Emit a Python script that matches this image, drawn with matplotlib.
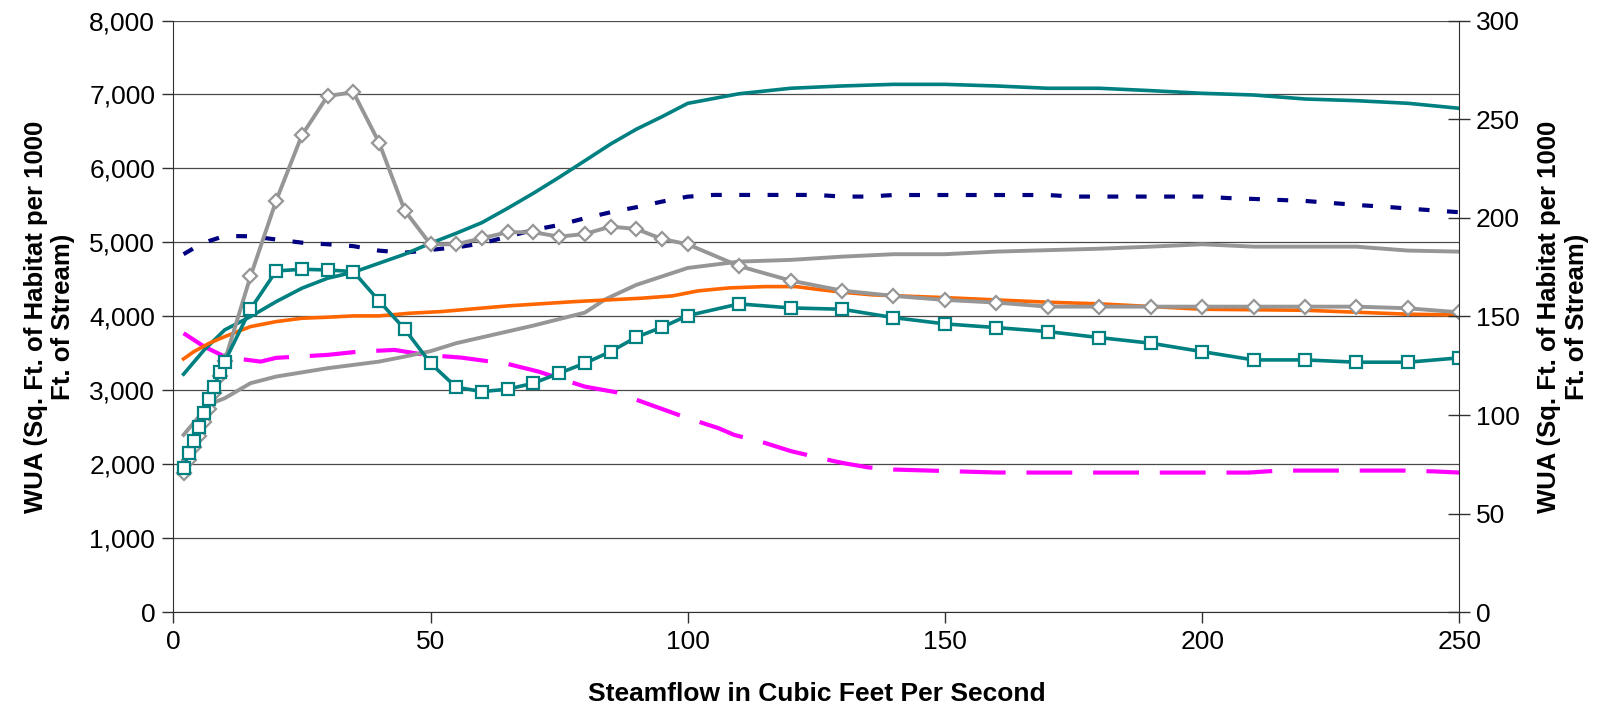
import numpy as np
import matplotlib
matplotlib.use('Agg')
import matplotlib.pyplot as plt
from matplotlib.ticker import FuncFormatter

plt.rcParams['font.family'] = ['Liberation Sans', 'DejaVu Sans']

# flows (cfs) where the marker series were sampled
flow_pts = [2, 3, 4, 5, 6, 7, 8, 9, 10, 15, 20, 25, 30, 35, 40, 45, 50, 55, 60, 65,
            70, 75, 80, 85, 90, 95, 100, 110, 120, 130, 140, 150, 160, 170, 180,
            190, 200, 210, 220, 230, 240, 250]

# gray line with diamonds
wua_diamond = [1890, 2060, 2230, 2380, 2570, 2750, 2970, 3190, 3400, 4540, 5565, 6450,
               6980, 7030, 6350, 5430, 4975, 4975, 5057, 5138, 5138, 5078, 5115, 5214,
               5182, 5047, 4975, 4680, 4484, 4349, 4277, 4223, 4187, 4132, 4132, 4132,
               4132, 4132, 4132, 4132, 4110, 4055]

# teal line with squares
wua_square = [1950, 2150, 2320, 2510, 2690, 2885, 3050, 3245, 3390, 4097, 4615, 4637,
              4628, 4606, 4209, 3827, 3367, 3043, 2984, 3016, 3097, 3232, 3367, 3524,
              3719, 3854, 4011, 4169, 4115, 4097, 3984, 3899, 3849, 3795, 3714, 3638,
              3524, 3412, 3412, 3381, 3381, 3440]

# teal solid
teal_x = [2, 6, 10, 15, 20, 25, 30, 35, 40, 45, 50, 55, 60, 65, 70, 75, 80, 85, 90, 95,
          100, 110, 120, 130, 140, 150, 160, 170, 180, 190, 200, 210, 220, 230, 240, 250]
teal_y = [3219, 3547, 3818, 3997, 4200, 4381, 4516, 4597, 4719, 4841, 4989, 5124, 5268,
          5462, 5665, 5880, 6104, 6330, 6530, 6700, 6880, 7010, 7084, 7115, 7137, 7137,
          7115, 7084, 7084, 7052, 7016, 6993, 6939, 6916, 6881, 6813]

# orange solid
orange_x = [2, 4, 7, 10, 15, 20, 25, 30, 35, 40, 46, 52, 65, 78, 91, 97, 102, 108, 115,
            121, 125, 130, 136, 150, 170, 180, 200, 220, 240, 250]
orange_y = [3426, 3524, 3638, 3727, 3862, 3930, 3975, 3989, 4007, 4007, 4043, 4065, 4142,
            4200, 4246, 4277, 4345, 4385, 4403, 4403, 4368, 4327, 4291, 4254, 4192, 4170,
            4097, 4083, 4030, 4020]

# gray solid
gray_x = [2, 5, 8, 10, 15, 20, 30, 40, 45, 50, 55, 70, 80, 84, 90, 100, 110, 120, 130,
          140, 150, 160, 180, 190, 200, 210, 230, 240, 250]
gray_y = [2399, 2646, 2840, 2894, 3097, 3187, 3300, 3389, 3457, 3530, 3638, 3876, 4051,
          4232, 4426, 4655, 4741, 4764, 4808, 4841, 4841, 4876, 4915, 4943, 4975, 4943,
          4943, 4890, 4876]

# navy dashed
navy_x = [2, 4.5, 7, 10, 15, 25, 30, 35, 40, 45, 50, 56, 60, 65, 70, 75, 80, 85, 90, 95,
          100, 105, 125, 130, 135, 140, 170, 175, 200, 205, 210, 220, 225, 230, 236, 241, 250]
navy_y = [4841, 4943, 5020, 5088, 5083, 4997, 4975, 4950, 4889, 4862, 4899, 4943, 4989,
          5078, 5169, 5236, 5327, 5408, 5476, 5552, 5619, 5642, 5642, 5620, 5620, 5641,
          5641, 5620, 5620, 5600, 5588, 5561, 5534, 5507, 5480, 5453, 5408]

# magenta long-dashed
pink_x = [2, 6, 10, 13, 17, 20, 30, 36, 43, 49, 56, 65, 71, 80, 86, 91, 100, 106, 109,
          115, 120, 125, 130, 135, 140, 150, 160, 170, 180, 190, 200, 209, 215, 220, 230,
          240, 245, 250]
pink_y = [3773, 3592, 3457, 3425, 3389, 3440, 3480, 3524, 3547, 3480, 3443, 3358, 3254,
          3051, 2976, 2849, 2624, 2489, 2399, 2290, 2180, 2097, 2020, 1960, 1930, 1910,
          1890, 1889, 1889, 1889, 1889, 1889, 1916, 1916, 1916, 1916, 1905, 1889]

left_ticks = np.arange(0, 8001, 1000)
right_ticks = np.arange(0, 301, 50)
x_ticks = [0, 50, 100, 150, 200, 250]

fig = plt.figure(figsize=(16.06, 7.12), dpi=100)
ax = fig.add_axes([0.1079, 0.140, 0.8008, 0.8312])

ax.plot(pink_x, pink_y, color='#FF00FF', lw=3.0, dashes=(11, 5), zorder=3)
ax.plot(navy_x, navy_y, color='#000080', lw=3.0, dashes=(2.6, 4.2), zorder=3)
ax.plot(gray_x, gray_y, color='#969696', lw=2.8, zorder=3)
ax.plot(teal_x, teal_y, color='#008080', lw=2.6, zorder=3)
ax.plot(orange_x, orange_y, color='#FF6600', lw=2.6, zorder=3)
ax.plot(flow_pts, wua_diamond, color='#969696', lw=2.8, marker='D', ms=7,
        mfc='white', mec='#969696', mew=1.6, zorder=4)
ax.plot(flow_pts, wua_square, color='#008080', lw=2.6, marker='s', ms=8,
        mfc='white', mec='#008080', mew=1.6, zorder=5)

ax.set_xlim(0, 250)
ax.set_ylim(0, 8000)
ax.set_xticks(x_ticks)
ax.set_yticks(left_ticks)
ax.yaxis.set_major_formatter(FuncFormatter(lambda v, p: '{:,.0f}'.format(v)))
ax.grid(axis='y', color='#4a4a4a', lw=0.9, zorder=1)
ax.set_axisbelow(True)
for s in ['top', 'right']:
    ax.spines[s].set_visible(False)
ax.spines['left'].set_color('#303030')
ax.spines['bottom'].set_color('#303030')
ax.tick_params(axis='both', labelsize=19, length=8, width=1, color='#303030', pad=5)
ax.set_xlabel('Steamflow in Cubic Feet Per Second', fontsize=19, fontweight='bold',
              labelpad=20)
ax.set_ylabel('WUA (Sq. Ft. of Habitat per 1000\nFt. of Stream)', fontsize=18.5,
              fontweight='bold', labelpad=10, linespacing=1.2)

ax2 = ax.twinx()
ax2.set_ylim(0, 300)
ax2.set_yticks(right_ticks)
for s in ['top', 'left', 'bottom']:
    ax2.spines[s].set_visible(False)
ax2.spines['right'].set_color('#303030')
ax2.tick_params(axis='y', labelsize=19, length=16, width=1, color='#303030',
                direction='inout', pad=4)
ax2.set_ylabel('WUA (Sq. Ft. of Habitat per 1000\nFt. of Stream)', fontsize=18.5,
               fontweight='bold', rotation=90, labelpad=12, linespacing=1.2)

fig.savefig('out.png', dpi=100)
